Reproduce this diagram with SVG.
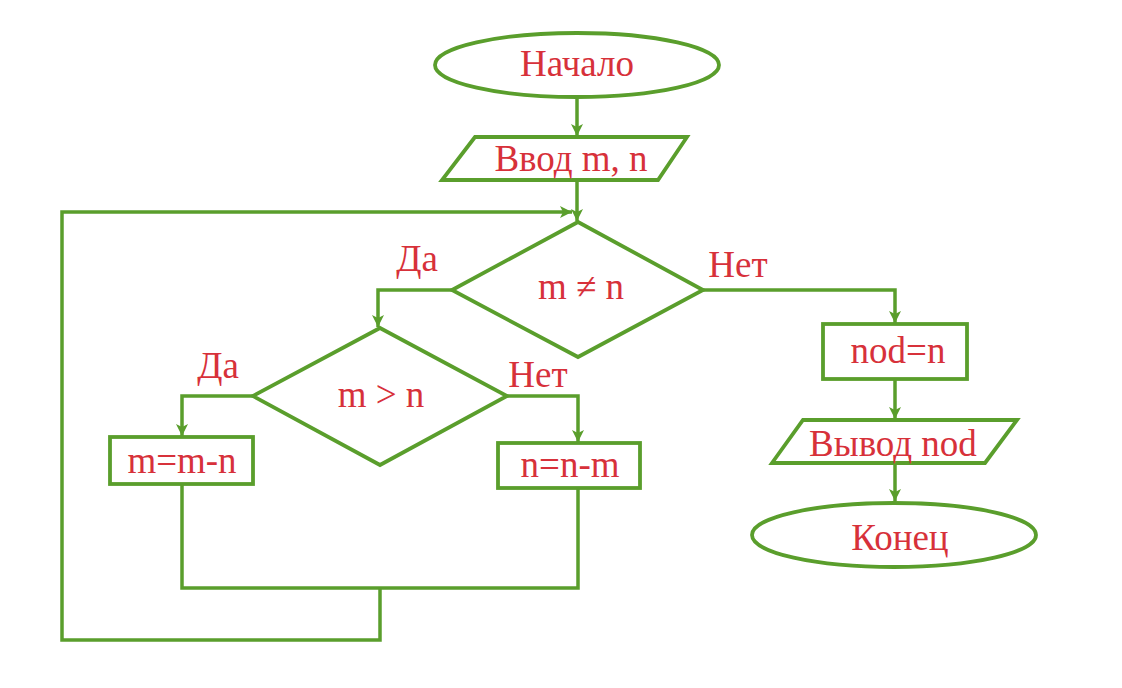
<svg xmlns="http://www.w3.org/2000/svg" width="1122" height="688" viewBox="0 0 1122 688">
<style>
.s{fill:#fff;stroke:#5a9e2c;stroke-width:3.8;stroke-linejoin:miter}
.c{fill:none;stroke:#5a9e2c;stroke-width:3.5;stroke-linejoin:miter}
.t{font-family:"Liberation Serif","Times New Roman",serif;font-size:37px;fill:#d7313a;text-anchor:middle}
</style>
<defs>
<marker id="a" viewBox="0 0 12 12" refX="12" refY="6" markerWidth="12" markerHeight="12" markerUnits="userSpaceOnUse" orient="auto">
<path d="M0,0 L12,6 L0,12 L3,6 Z" fill="#5a9e2c"/>
</marker>
</defs>
<rect width="1122" height="688" fill="#fff"/>
<g id="connectors">
<line class="c" x1="577" y1="97" x2="577" y2="136" marker-end="url(#a)"/>
<line class="c" x1="577" y1="180" x2="577" y2="221" marker-end="url(#a)"/>
<polyline class="c" points="182,484 182,588 578,588 578,488"/>
<polyline class="c" points="380,588 380,640 62,640 62,212 572,212" marker-end="url(#a)"/>
<polyline class="c" points="452,290 378,290 378,327" marker-end="url(#a)"/>
<polyline class="c" points="703,290 895,290 895,323" marker-end="url(#a)"/>
<polyline class="c" points="253,396 182,396 182,436" marker-end="url(#a)"/>
<polyline class="c" points="507,396 578,396 578,442" marker-end="url(#a)"/>
<line class="c" x1="895" y1="379" x2="895" y2="419" marker-end="url(#a)"/>
<line class="c" x1="895" y1="463" x2="895" y2="501" marker-end="url(#a)"/>
</g>
<g id="start">
<ellipse class="s" cx="577" cy="65" rx="142" ry="32"/>
<text class="t" x="577" y="76">Начало</text>
</g>
<g id="input">
<polygon class="s" points="475,137 687,137 658,180 442,180"/>
<text class="t" x="571" y="171">Ввод m, n</text>
</g>
<g id="cond1">
<polygon class="s" points="578,222 703,290 578,357 452,290"/>
<text class="t" x="581" y="299">m ≠ n</text>
<text class="t" x="417" y="271">Да</text>
<text class="t" x="738" y="277">Нет</text>
</g>
<g id="cond2">
<polygon class="s" points="380,328 507,396 380,465 253,396"/>
<text class="t" x="381" y="407">m &gt; n</text>
<text class="t" x="218" y="378">Да</text>
<text class="t" x="538" y="387">Нет</text>
</g>
<g id="box-m">
<rect class="s" x="110" y="437" width="143" height="47"/>
<text class="t" x="182" y="473">m=m-n</text>
</g>
<g id="box-n">
<rect class="s" x="498" y="443" width="142" height="45"/>
<text class="t" x="570" y="477">n=n-m</text>
</g>
<g id="nod">
<rect class="s" x="823" y="324" width="144" height="55"/>
<text class="t" x="898" y="363">nod=n</text>
</g>
<g id="output">
<polygon class="s" points="803,420 1017,420 985,463 772,463"/>
<text class="t" x="893" y="456">Вывод nod</text>
</g>
<g id="end">
<ellipse class="s" cx="894" cy="535" rx="142" ry="32"/>
<text class="t" x="900" y="550">Конец</text>
</g>
</svg>
